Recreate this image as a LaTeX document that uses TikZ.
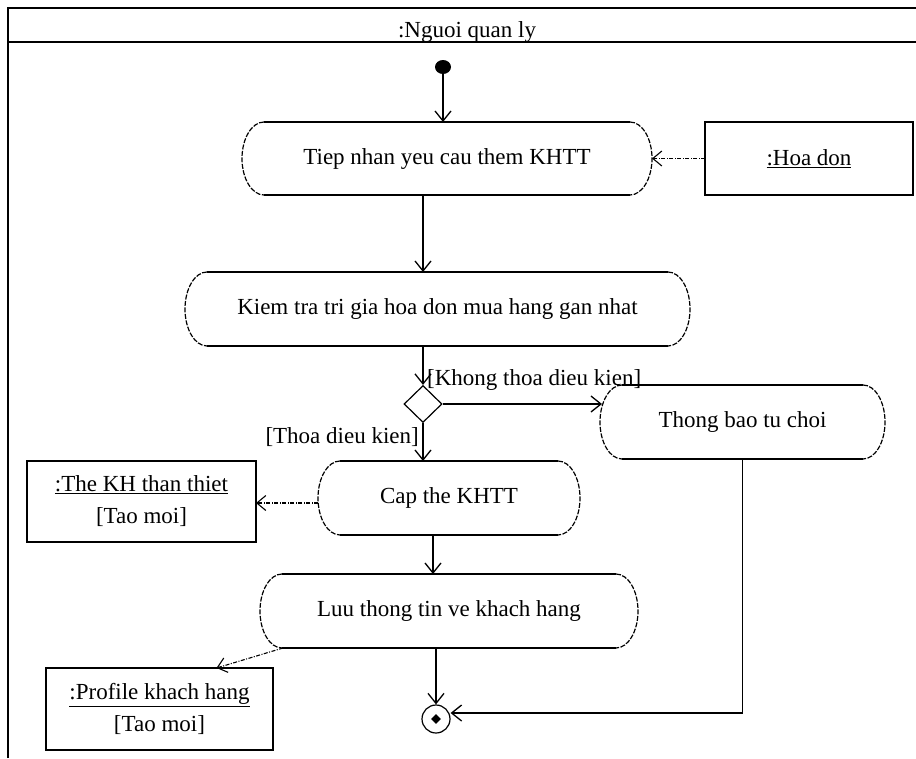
\documentclass[tikz,border=0pt]{standalone}
\usepackage{fontspec}
\setmainfont{Liberation Serif}
\usetikzlibrary{arrows.meta,shapes.geometric,calc}

% Activity: invisible rectangle carrying the text, outlined with straight
% top/bottom edges and elliptic ends.
\newcommand\actbox[6]{%
  \node[act, minimum width=#4pt, minimum height=#5pt] (#1) at (#2,#3) {#6};
  \pgfmathsetmacro\acthy{#5/2}%
  \draw[edgeline] ($(#1.north west)+(22,0)$) -- ($(#1.north east)+(-22,0)$)
                  ($(#1.south west)+(22,0)$) -- ($(#1.south east)+(-22,0)$);
  \draw[arcline] ($(#1.north east)+(-22,0)$)
      arc[start angle=90, end angle=-90, x radius=22pt, y radius=\acthy pt];
  \draw[arcline] ($(#1.north west)+(22,0)$)
      arc[start angle=90, end angle=270, x radius=22pt, y radius=\acthy pt];
}

\begin{document}
\begin{tikzpicture}[x=1pt,y=-1pt,
  every node/.style={font=\fontsize{23}{27}\selectfont},
  act/.style={rectangle, inner sep=0pt, outer sep=0pt},
  objbox/.style={draw, line width=1.3pt, rectangle, inner sep=0pt, outer sep=0pt, align=center},
  edgeline/.style={line width=1.3pt},
  arcline/.style={line width=1.2pt, dash pattern=on 5pt off 1.5pt},
  flow/.style={line width=1.3pt, -{Straight Barb[length=10pt,width=16pt]}},
  objflow/.style={line width=1.1pt, dash pattern=on 4pt off 1.5pt on 1pt off 1.5pt,
                  -{Straight Barb[length=9pt,width=15pt]}},
  frame/.style={line width=1.8pt},
  guard/.style={inner sep=0pt}]

\fill[white] (0,0) rectangle (916,758);
\useasboundingbox (0,0) rectangle (916,758);

% swimlane
\draw[frame] (8,758) -- (8,8) -- (916,8);
\draw[frame] (8,42) -- (916,42);
\node[anchor=base] (lane) at (467,37) {:Nguoi quan ly};

% activities
\actbox{act1}{447}{158.5}{410}{73}{Tiep nhan yeu cau them KHTT}
\actbox{act2}{437.5}{309}{505}{74}{Kiem tra tri gia hoa don mua hang gan nhat}
\actbox{deny}{742.5}{422}{285}{74}{Thong bao tu choi}
\actbox{card}{449}{498}{262}{74}{Cap the KHTT}
\actbox{save}{449}{611}{378}{74}{Luu thong tin ve khach hang}

% control nodes
\node[ellipse, fill, minimum width=16pt, minimum height=14pt, inner sep=0pt] (start) at (443,67) {};
\node[diamond, draw, line width=1.2pt, minimum width=38pt, minimum height=37pt,
      inner sep=0pt, aspect=1] (dec) at (423,404) {};
\node[circle, draw, line width=1.2pt, minimum size=28pt, inner sep=0pt] (end) at (436,719) {};
\node[diamond, fill, minimum size=10pt, inner sep=0pt] (endcore) at (end) {};

% objects
\node[objbox, minimum width=208pt, minimum height=73pt] (bill) at (809,158.5) {\underline{:Hoa don}};
\node[objbox, minimum width=229pt, minimum height=81pt] (vip) at (141.5,501.5)
  {\underline{:The KH than thiet}\\[5pt][Tao moi]};
\node[objbox, minimum width=227pt, minimum height=82pt] (prof) at (159.5,709)
  {\underline{:Profile khach hang}\\[5pt][Tao moi]};

% guards
\node[guard, anchor=west] (nolabel) at (427,380) {[Khong thoa dieu kien]};
\node[guard, anchor=east] (yeslabel) at (419,437) {[Thoa dieu kien]};

% control flow
\draw[flow] (start) -- (start |- act1.north);
\draw[flow] (act1.south -| dec) -- (act2.north -| dec);
\draw[flow] (act2.south -| dec) -- (dec.north);
\draw[flow] (dec.east) -- ([xshift=2pt]dec.east -| deny.west);
\draw[flow] (dec.south) -- (dec.south |- card.north);
\draw[flow] ([xshift=-16pt]card.south) -- ([xshift=-16pt]card.south |- save.north);
\draw[flow] (save.south -| end) -- (end.north);
\draw[flow] (deny.south) |- ([yshift=6pt]end.east);

% object flow
\draw[objflow] (bill.west) -- (act1.east);
\draw[objflow] ([yshift=-5pt]card.west) -- ([yshift=-5pt]card.west -| vip.east);
\draw[objflow] ([xshift=23pt]save.south west) -- ([xshift=57pt]prof.north);

\end{tikzpicture}
\end{document}
